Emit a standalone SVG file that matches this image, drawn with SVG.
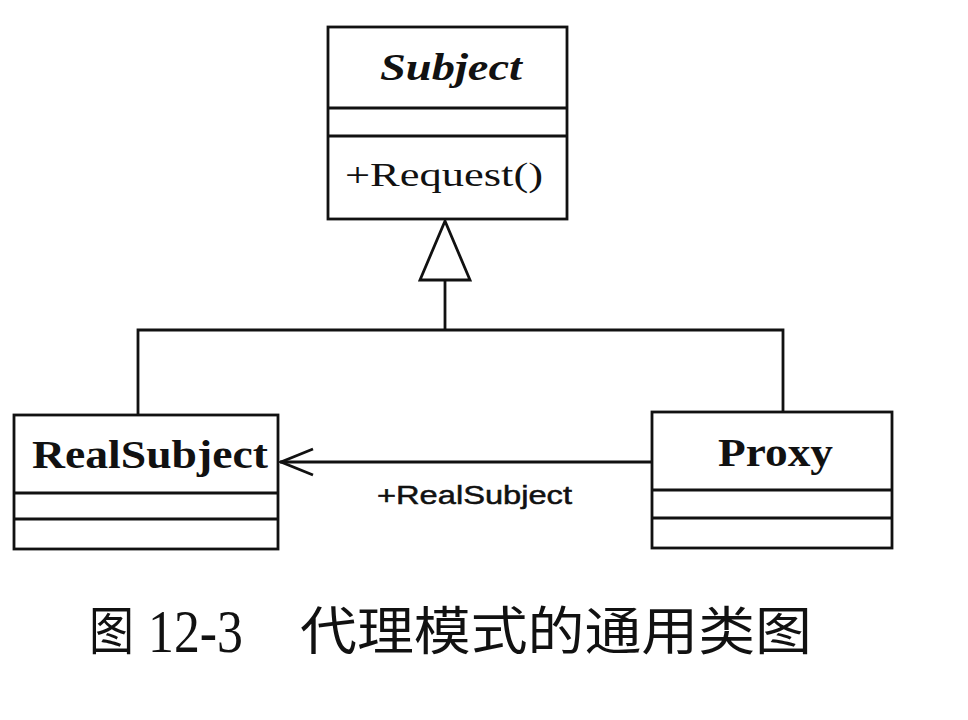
<svg xmlns="http://www.w3.org/2000/svg" width="968" height="720" viewBox="0 0 968 720">
<style>
.box{fill:#fff;stroke:#111;stroke-width:2.8}
.sep{stroke:#111;stroke-width:2.8;fill:none}
.conn{stroke:#111;stroke-width:2.8;fill:none}
.serif{font-family:"Liberation Serif","Times New Roman",serif;fill:#111}
.sans{font-family:"Liberation Sans",Arial,sans-serif;fill:#111;stroke:#111;stroke-width:0.5}
.cjk{font-family:"Noto Sans CJK SC","Noto Sans",sans-serif;fill:#111}
</style>
<rect width="968" height="720" fill="#fff"/>
<g id="connectors">
  <polyline class="conn" points="138,415 138,330 783,330 783,412"/>
  <line class="conn" x1="445" y1="330" x2="445" y2="280"/>
  <polygon class="conn" fill="#fff" points="445,221 470,280 420,280"/>
  <line class="conn" x1="280" y1="462" x2="652" y2="462"/>
  <polyline class="conn" points="313,449 281,462 313,475"/>
  <text class="sans" x="377" y="504" font-size="26" textLength="195" lengthAdjust="spacingAndGlyphs">+RealSubject</text>
</g>
<g id="subject">
  <rect class="box" x="328" y="27" width="239" height="192"/>
  <line class="sep" x1="328" y1="108" x2="567" y2="108"/>
  <line class="sep" x1="328" y1="136" x2="567" y2="136"/>
  <text class="serif" x="380" y="80" font-size="37" font-weight="bold" font-style="italic" textLength="142" lengthAdjust="spacingAndGlyphs">Subject</text>
  <text class="serif" x="345" y="186" font-size="33" textLength="198" lengthAdjust="spacingAndGlyphs">+Request()</text>
</g>
<g id="realsubject">
  <rect class="box" x="14" y="415" width="264" height="134"/>
  <line class="sep" x1="14" y1="493" x2="278" y2="493"/>
  <line class="sep" x1="14" y1="519" x2="278" y2="519"/>
  <text class="serif" x="32" y="468" font-size="39" font-weight="bold" textLength="236" lengthAdjust="spacingAndGlyphs">RealSubject</text>
</g>
<g id="proxy">
  <rect class="box" x="652" y="412" width="240" height="136"/>
  <line class="sep" x1="652" y1="490" x2="892" y2="490"/>
  <line class="sep" x1="652" y1="518" x2="892" y2="518"/>
  <text class="serif" x="718" y="466" font-size="40" font-weight="bold" textLength="115" lengthAdjust="spacingAndGlyphs">Proxy</text>
</g>
<g id="caption">
  <text class="cjk" x="89" y="650" font-size="52" textLength="45" lengthAdjust="spacingAndGlyphs">图</text>
  <text class="serif" x="148" y="652" font-size="62" textLength="95" lengthAdjust="spacingAndGlyphs">12-3</text>
  <text class="cjk" x="300" y="650" font-size="52" textLength="512" lengthAdjust="spacingAndGlyphs">代理模式的通用类图</text>
</g>
</svg>
